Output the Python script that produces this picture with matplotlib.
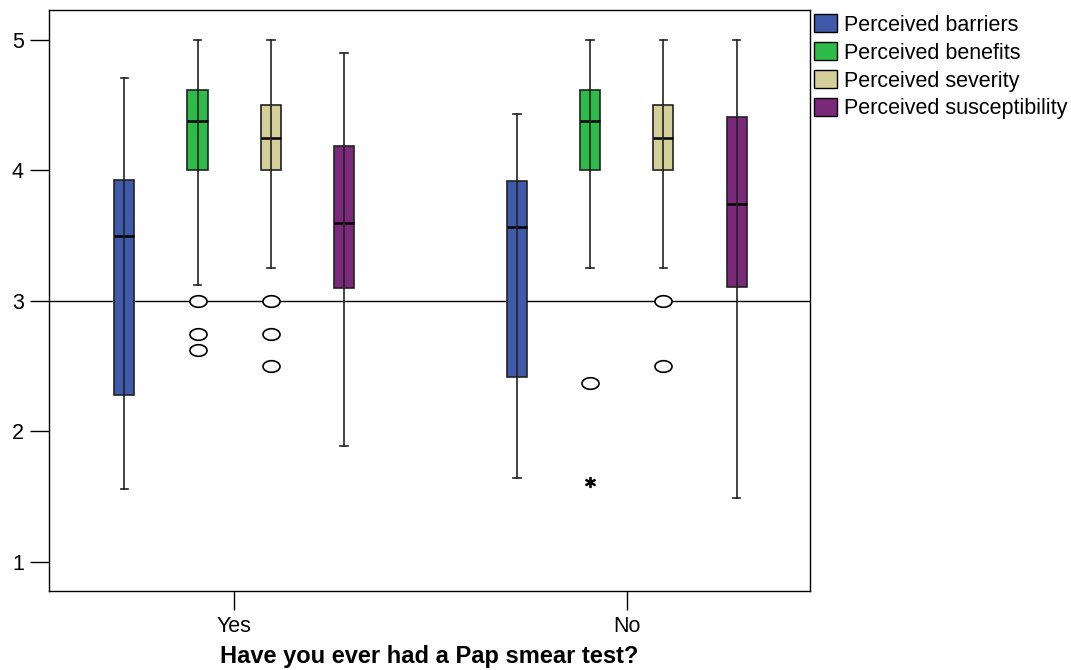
import matplotlib
matplotlib.use("Agg")
import matplotlib.pyplot as plt
import numpy as np
from matplotlib.path import Path
from matplotlib.patches import Patch

plt.rcParams['font.family'] = ['Liberation Sans', 'DejaVu Sans']

groups = ["Yes", "No"]
series = ["Perceived barriers", "Perceived benefits", "Perceived severity", "Perceived susceptibility"]
colors = ["#3F59AB", "#2DBB4A", "#D4CF98", "#7B2A7B"]

# [whislo, q1, median, q3, whishi] per group per series
yes_stats = [
    [1.56, 2.28, 3.50, 3.93, 4.71],
    [3.12, 4.00, 4.38, 4.62, 5.00],
    [3.25, 4.00, 4.25, 4.50, 5.00],
    [1.89, 3.10, 3.60, 4.19, 4.90],
]
no_stats = [
    [1.64, 2.42, 3.57, 3.92, 4.43],
    [3.25, 4.00, 4.38, 4.62, 5.00],
    [3.25, 4.00, 4.25, 4.50, 5.00],
    [1.49, 3.11, 3.745, 4.41, 5.00],
]
yes_outliers = [[], [3.0, 2.75, 2.625], [3.0, 2.75, 2.5], []]
no_outliers = [[], [2.375], [3.0, 2.5], []]
no_extremes = [[], [1.61], [], []]

all_stats = [yes_stats, no_stats]
all_outliers = [yes_outliers, no_outliers]
all_extremes = [[[], [], [], []], no_extremes]

fig = plt.figure(figsize=(10.71, 6.70), dpi=100)
ax = fig.add_axes([49/1071, 1-591/670, (810-49)/1071, (591-10)/670])

offsets = [-0.279, -0.093, 0.093, 0.279]
width = 0.051

# ellipse marker
t = np.linspace(0, 2*np.pi, 60)
ell = Path(np.column_stack([np.cos(t), 0.68*np.sin(t)]), closed=True)

ax.axhline(3, color='black', lw=1, zorder=1)

for gi, g in enumerate(groups):
    for si in range(4):
        lo, q1, med, q3, hi = all_stats[gi][si]
        st = dict(whislo=lo, q1=q1, med=med, q3=q3, whishi=hi, fliers=[])
        pos = gi + offsets[si]
        ax.bxp([st], positions=[pos], widths=width, patch_artist=True, showfliers=False,
               boxprops=dict(facecolor=colors[si], edgecolor='#222222', lw=1.2),
               medianprops=dict(color='black', lw=1.8),
               whiskerprops=dict(color='#222222', lw=1.2),
               capprops=dict(color='#222222', lw=1.2), capwidths=0.02,
               manage_ticks=False, zorder=2)
        # whisker line runs through the box
        ax.plot([pos, pos], [q1, q3], color='#222222', lw=1.2, zorder=3)
        if all_outliers[gi][si]:
            ax.scatter([pos]*len(all_outliers[gi][si]), all_outliers[gi][si], marker=ell, s=150,
                       facecolors='white', edgecolors='black', linewidths=1.2, zorder=4)
        if all_extremes[gi][si]:
            ax.scatter([pos]*len(all_extremes[gi][si]), all_extremes[gi][si], marker='$*$', s=50,
                       color='black', zorder=4)

ax.set_xlim(-0.471, 1.466)
ax.set_ylim(0.777, 5.23)
ax.set_yticks([1, 2, 3, 4, 5])
ax.set_xticks([0, 1])
ax.set_xticklabels(groups)
ax.tick_params(axis='both', direction='out', length=14, width=1, labelsize=15.5)
ax.tick_params(axis='y', pad=4)
ax.tick_params(axis='x', pad=4)
for sp in ax.spines.values():
    sp.set_linewidth(1)
ax.set_xlabel("Have you ever had a Pap smear test?", fontsize=17, fontweight='bold', labelpad=6)

handles = [Patch(facecolor=c, edgecolor='black', lw=1) for c in colors]
fig.legend(handles, series, loc='upper left', bbox_to_anchor=(812/1071, 1-12/670), frameon=False,
           fontsize=15.5, handlelength=1.06, handleheight=0.92, handletextpad=0.33, labelspacing=0.3,
           borderaxespad=0, borderpad=0.1)

fig.savefig("out.png", dpi=100)
